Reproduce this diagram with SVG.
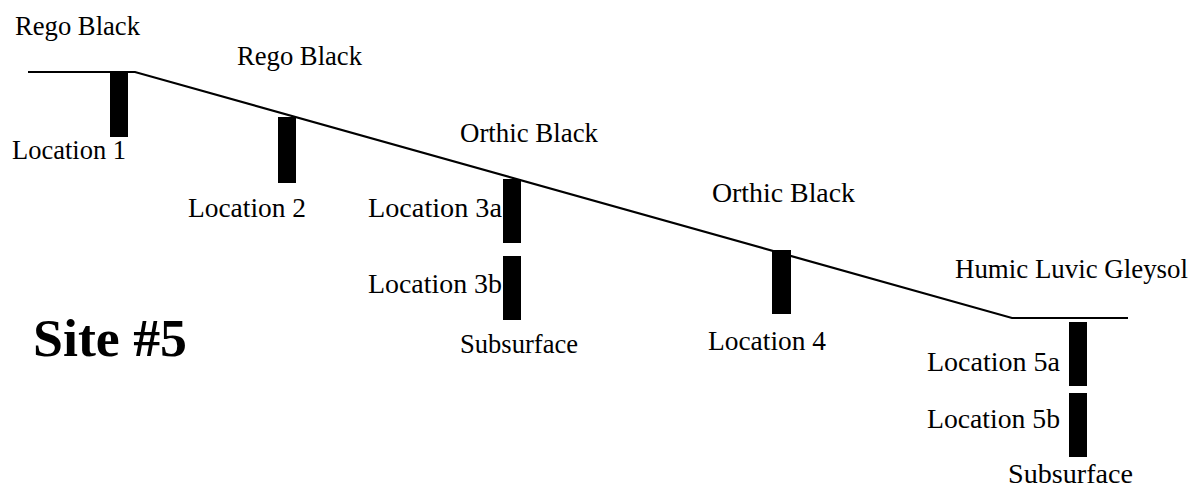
<svg xmlns="http://www.w3.org/2000/svg" width="1194" height="489" viewBox="0 0 1194 489">
<style>
.t{font-family:"Liberation Serif","Times New Roman",serif;font-size:27px;fill:#000}
.b{fill:#000}
.g{fill:none;stroke:#000;stroke-width:2.2}
</style>
<rect width="1194" height="489" fill="#fff"/>
<g id="ground">
<polyline class="g" points="28,72 135,72 1012,318 1128,318"/>
</g>
<g id="title"><text x="33" y="356" font-family="Liberation Serif, serif" font-size="53" font-weight="bold" textLength="154" lengthAdjust="spacingAndGlyphs">Site #5</text></g>
<g id="loc1">
<rect class="b" x="110" y="72" width="18" height="65"/>
<text class="t" x="15" y="35" textLength="125" lengthAdjust="spacingAndGlyphs">Rego Black</text>
<text class="t" x="12" y="159" textLength="114" lengthAdjust="spacingAndGlyphs">Location 1</text>
</g>
<g id="loc2">
<rect class="b" x="278" y="117" width="18" height="66"/>
<text class="t" x="237" y="65" textLength="125" lengthAdjust="spacingAndGlyphs">Rego Black</text>
<text class="t" x="188" y="217" textLength="118" lengthAdjust="spacingAndGlyphs">Location 2</text>
</g>
<g id="loc3">
<rect class="b" x="503" y="179" width="18" height="64"/>
<rect class="b" x="503" y="256" width="18" height="64"/>
<text class="t" x="460" y="142" textLength="138" lengthAdjust="spacingAndGlyphs">Orthic Black</text>
<text class="t" x="368" y="217" textLength="134" lengthAdjust="spacingAndGlyphs">Location 3a</text>
<text class="t" x="368" y="293" textLength="134" lengthAdjust="spacingAndGlyphs">Location 3b</text>
<text class="t" x="460" y="353" textLength="118" lengthAdjust="spacingAndGlyphs">Subsurface</text>
</g>
<g id="loc4">
<rect class="b" x="772" y="250" width="19" height="64"/>
<text class="t" x="712" y="202" textLength="143" lengthAdjust="spacingAndGlyphs">Orthic Black</text>
<text class="t" x="708" y="350" textLength="118" lengthAdjust="spacingAndGlyphs">Location 4</text>
</g>
<g id="loc5">
<rect class="b" x="1069" y="322" width="18" height="64"/>
<rect class="b" x="1069" y="393" width="18" height="64"/>
<text class="t" x="955" y="278" textLength="233" lengthAdjust="spacingAndGlyphs">Humic Luvic Gleysol</text>
<text class="t" x="927" y="371" textLength="133" lengthAdjust="spacingAndGlyphs">Location 5a</text>
<text class="t" x="927" y="428" textLength="133" lengthAdjust="spacingAndGlyphs">Location 5b</text>
<text class="t" x="1008" y="483" textLength="125" lengthAdjust="spacingAndGlyphs">Subsurface</text>
</g>
</svg>
